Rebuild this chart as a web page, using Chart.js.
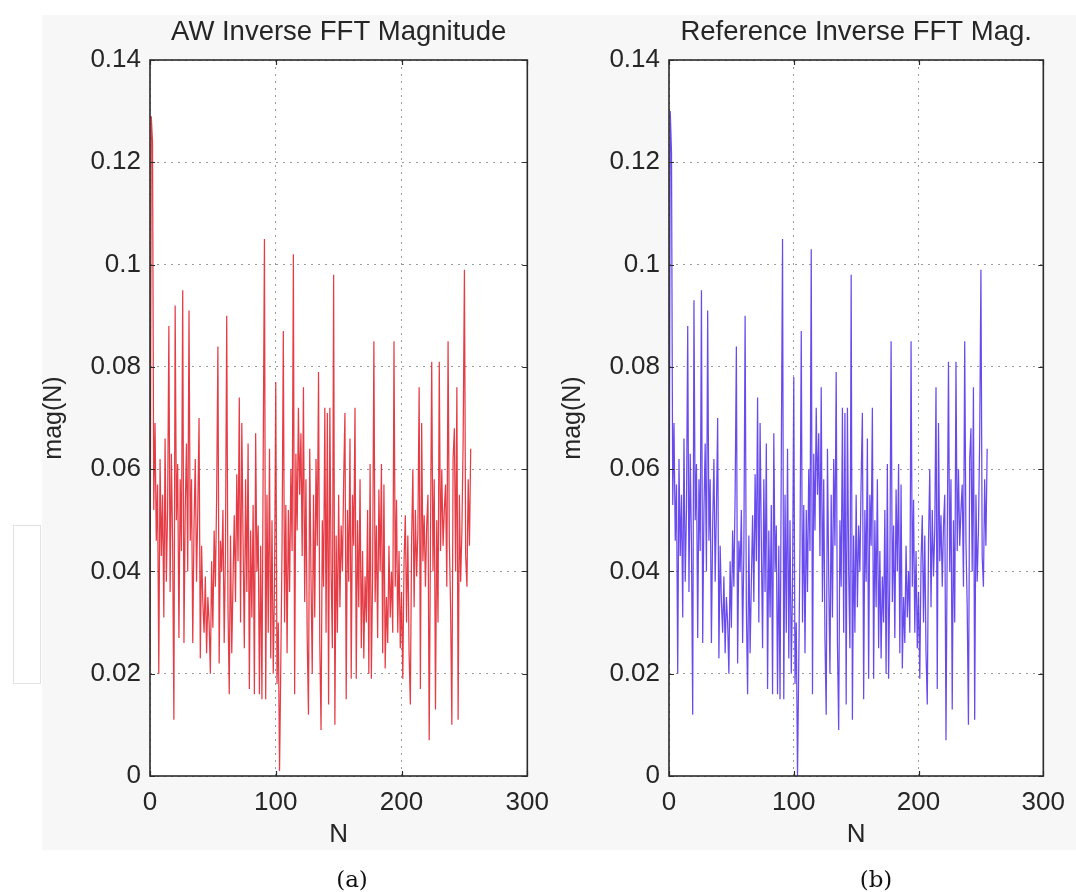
<!DOCTYPE html>
<html>
<head>
<meta charset="utf-8">
<script src="https://cdn.jsdelivr.net/npm/chart.js@4/dist/chart.umd.min.js"></script>
<style>
  html, body { margin: 0; padding: 0; background: #ffffff; width: 1076px; height: 892px; overflow: hidden; }
  #figbg { position: absolute; left: 42px; top: 15px; width: 1034px; height: 835px; background: #f7f7f7; }
  #stray { position: absolute; left: 13px; top: 525px; width: 26px; height: 157px; border: 1px solid #e2e2e2; background: #fff; }
  canvas { position: absolute; top: 0; }
  .cap { position: absolute; top: 866px; width: 80px; text-align: center; font-family: "DejaVu Serif", "Liberation Serif", serif; font-size: 23px; color: #111; }
</style>
</head>
<body>
<div id="figbg"></div>
<div id="stray"></div>
<canvas id="c1" width="560" height="892" style="left:0px"></canvas>
<canvas id="c2" width="557" height="892" style="left:519px"></canvas>
<div class="cap" style="left:312px">(a)</div>
<div class="cap" style="left:836px">(b)</div>
<script>
// ---- data ----
const xTicks = [0, 100, 200, 300];
const yTicks = [0, 0.02, 0.04, 0.06, 0.08, 0.10, 0.12, 0.14];

const awMag = [
  0.021, 0.129, 0.124, 0.052, 0.069, 0.046, 0.057, 0.020, 0.062, 0.043, 0.055, 0.031, 0.066, 0.038, 0.052, 0.088,
  0.036, 0.063, 0.045, 0.011, 0.092, 0.050, 0.061, 0.027, 0.058, 0.044, 0.095, 0.026, 0.052, 0.065, 0.040, 0.091,
  0.046, 0.058, 0.026, 0.049, 0.062, 0.038, 0.052, 0.070, 0.023, 0.045, 0.034, 0.028, 0.039, 0.024, 0.035, 0.030,
  0.020, 0.042, 0.029, 0.048, 0.037, 0.055, 0.084, 0.022, 0.046, 0.040, 0.052, 0.026, 0.044, 0.090, 0.033, 0.016,
  0.047, 0.024, 0.038, 0.051, 0.034, 0.059, 0.042, 0.074, 0.030, 0.069, 0.046, 0.025, 0.058, 0.036, 0.065, 0.017,
  0.048, 0.031, 0.053, 0.016, 0.067, 0.040, 0.049, 0.016, 0.045, 0.015, 0.062, 0.105, 0.015, 0.055, 0.028, 0.064,
  0.023, 0.050, 0.020, 0.037, 0.077, 0.018, 0.030, 0.001, 0.022, 0.045, 0.087, 0.030, 0.053, 0.024, 0.052, 0.036,
  0.060, 0.044, 0.102, 0.016, 0.063, 0.048, 0.072, 0.055, 0.067, 0.043, 0.076, 0.034, 0.058, 0.027, 0.012, 0.064,
  0.039, 0.020, 0.055, 0.031, 0.062, 0.045, 0.079, 0.026, 0.009, 0.050, 0.037, 0.072, 0.028, 0.071, 0.014, 0.072,
  0.040, 0.025, 0.098, 0.010, 0.047, 0.028, 0.055, 0.033, 0.049, 0.040, 0.058, 0.071, 0.015, 0.052, 0.038, 0.066,
  0.019, 0.055, 0.045, 0.072, 0.019, 0.050, 0.033, 0.058, 0.025, 0.044, 0.023, 0.039, 0.030, 0.052, 0.020, 0.061,
  0.019, 0.039, 0.085, 0.034, 0.049, 0.027, 0.056, 0.040, 0.061, 0.024, 0.057, 0.021, 0.035, 0.026, 0.045, 0.031,
  0.040, 0.028, 0.085, 0.037, 0.054, 0.028, 0.044, 0.025, 0.036, 0.019, 0.042, 0.051, 0.030, 0.047, 0.024, 0.014,
  0.046, 0.060, 0.033, 0.052, 0.039, 0.048, 0.076, 0.017, 0.069, 0.042, 0.051, 0.037, 0.049, 0.055, 0.007, 0.046,
  0.081, 0.040, 0.058, 0.013, 0.050, 0.030, 0.081, 0.044, 0.060, 0.045, 0.052, 0.057, 0.037, 0.085, 0.046, 0.033,
  0.010, 0.062, 0.068, 0.040, 0.076, 0.011, 0.055, 0.038, 0.048, 0.066, 0.099, 0.043, 0.037, 0.058, 0.045, 0.064
];

const refMag = [
  0.022, 0.130, 0.122, 0.053, 0.069, 0.046, 0.057, 0.020, 0.062, 0.043, 0.055, 0.031, 0.066, 0.038, 0.052, 0.088,
  0.036, 0.063, 0.045, 0.012, 0.093, 0.050, 0.061, 0.027, 0.058, 0.044, 0.095, 0.026, 0.052, 0.065, 0.040, 0.091,
  0.046, 0.058, 0.026, 0.049, 0.062, 0.038, 0.052, 0.070, 0.023, 0.045, 0.034, 0.028, 0.039, 0.024, 0.035, 0.030,
  0.020, 0.042, 0.029, 0.048, 0.037, 0.055, 0.084, 0.022, 0.046, 0.040, 0.052, 0.026, 0.044, 0.090, 0.033, 0.016,
  0.047, 0.024, 0.038, 0.051, 0.034, 0.059, 0.042, 0.074, 0.030, 0.069, 0.046, 0.025, 0.058, 0.036, 0.065, 0.017,
  0.048, 0.031, 0.053, 0.016, 0.067, 0.040, 0.049, 0.016, 0.045, 0.015, 0.062, 0.105, 0.015, 0.055, 0.028, 0.064,
  0.023, 0.050, 0.020, 0.037, 0.078, 0.018, 0.030, 0.000, 0.022, 0.045, 0.087, 0.030, 0.053, 0.024, 0.052, 0.036,
  0.060, 0.044, 0.103, 0.016, 0.063, 0.048, 0.072, 0.055, 0.067, 0.043, 0.076, 0.034, 0.058, 0.027, 0.012, 0.064,
  0.039, 0.020, 0.055, 0.031, 0.062, 0.045, 0.079, 0.026, 0.009, 0.050, 0.037, 0.072, 0.028, 0.071, 0.014, 0.072,
  0.040, 0.025, 0.098, 0.011, 0.047, 0.028, 0.055, 0.033, 0.049, 0.040, 0.058, 0.071, 0.015, 0.052, 0.038, 0.066,
  0.019, 0.055, 0.045, 0.072, 0.019, 0.050, 0.033, 0.058, 0.025, 0.044, 0.023, 0.039, 0.030, 0.052, 0.020, 0.061,
  0.019, 0.039, 0.085, 0.034, 0.049, 0.027, 0.056, 0.040, 0.061, 0.024, 0.057, 0.021, 0.035, 0.026, 0.045, 0.031,
  0.040, 0.028, 0.085, 0.037, 0.054, 0.028, 0.044, 0.025, 0.036, 0.019, 0.042, 0.051, 0.030, 0.047, 0.024, 0.014,
  0.046, 0.060, 0.033, 0.052, 0.039, 0.048, 0.076, 0.017, 0.069, 0.042, 0.051, 0.037, 0.049, 0.055, 0.007, 0.046,
  0.081, 0.040, 0.058, 0.013, 0.050, 0.030, 0.081, 0.044, 0.060, 0.045, 0.052, 0.057, 0.037, 0.085, 0.046, 0.033,
  0.010, 0.062, 0.068, 0.040, 0.076, 0.011, 0.055, 0.038, 0.048, 0.066, 0.099, 0.043, 0.037, 0.058, 0.045, 0.064
];

const sampleIndex = awMag.map((_, i) => i);

// ---- drawing ----
const FONT = '"Liberation Sans", Arial, Helvetica, sans-serif';
const TXT = '#262626';

const framePlugin = {
  id: 'matlabFrame',
  beforeDraw(chart) {
    const { ctx, chartArea: a } = chart;
    ctx.save();
    ctx.fillStyle = '#ffffff';
    ctx.fillRect(a.left, a.top, a.right - a.left, a.bottom - a.top);
    ctx.restore();
  },
  afterDatasetsDraw(chart) {
    const { ctx, chartArea: a, scales } = chart;
    const L = 5;
    ctx.save();
    ctx.strokeStyle = '#2b2b2b';
    ctx.lineWidth = 1.2;
    ctx.beginPath();
    xTicks.forEach(v => {
      const p = Math.round(scales.x.getPixelForValue(v)) + 0.5;
      ctx.moveTo(p, a.bottom); ctx.lineTo(p, a.bottom - L);
      ctx.moveTo(p, a.top); ctx.lineTo(p, a.top + L);
    });
    yTicks.forEach(v => {
      const p = Math.round(scales.y.getPixelForValue(v)) + 0.5;
      ctx.moveTo(a.left, p); ctx.lineTo(a.left + L, p);
      ctx.moveTo(a.right, p); ctx.lineTo(a.right - L, p);
    });
    ctx.stroke();
    ctx.lineWidth = 1.6;
    ctx.strokeRect(a.left, a.top, a.right - a.left, a.bottom - a.top);
    ctx.restore();
  }
};

function makeChart(id, title, values, color, rightPad) {
  return new Chart(document.getElementById(id), {
    type: 'line',
    data: {
      datasets: [{
        data: values.map((v, i) => ({ x: sampleIndex[i], y: v })),
        borderColor: color,
        borderWidth: 1.25,
        pointRadius: 0,
        tension: 0,
        fill: false
      }]
    },
    options: {
      responsive: false,
      animation: false,
      layout: { padding: { left: 0, right: rightPad, top: 0, bottom: 34 } },
      plugins: {
        legend: { display: false },
        tooltip: { enabled: false },
        title: {
          display: true,
          text: title,
          fullSize: false,
          color: TXT,
          font: { family: FONT, size: 27.5, weight: 'normal', lineHeight: 1.2 },
          padding: { top: 16, bottom: 11 }
        }
      },
      scales: {
        x: {
          type: 'linear',
          min: 0, max: 300,
          afterBuildTicks: s => { s.ticks = xTicks.map(v => ({ value: v })); },
          afterFit: s => { s.height = 82; },
          grid: { color: '#9a9a9a', lineWidth: 1, drawTicks: false },
          border: { display: false, dash: [2, 5] },
          ticks: { color: TXT, padding: 11, font: { family: FONT, size: 26 }, maxRotation: 0,
                   callback: v => String(v) },
          title: { display: true, text: 'N', color: TXT, font: { family: FONT, size: 26 },
                   padding: { top: 0, bottom: 8 } }
        },
        y: {
          type: 'linear',
          min: 0, max: 0.14,
          afterBuildTicks: s => { s.ticks = yTicks.map(v => ({ value: v })); },
          afterFit: s => { s.width = 150; },
          grid: { color: '#9a9a9a', lineWidth: 1, drawTicks: false },
          border: { display: false, dash: [2, 5] },
          ticks: { color: TXT, padding: 9, font: { family: FONT, size: 26 },
                   callback: v => String(+Number(v).toFixed(2)) },
          title: { display: true, text: 'mag(N)', color: TXT, font: { family: FONT, size: 25 },
                   padding: { top: 39, bottom: 0 } }
        }
      }
    },
    plugins: [framePlugin]
  });
}

makeChart('c1', 'AW Inverse FFT Magnitude', awMag, 'rgba(226,26,36,0.85)', 29);
makeChart('c2', 'Reference Inverse FFT Mag.', refMag, 'rgba(78,42,236,0.85)', 27);
</script>
</body>
</html>
